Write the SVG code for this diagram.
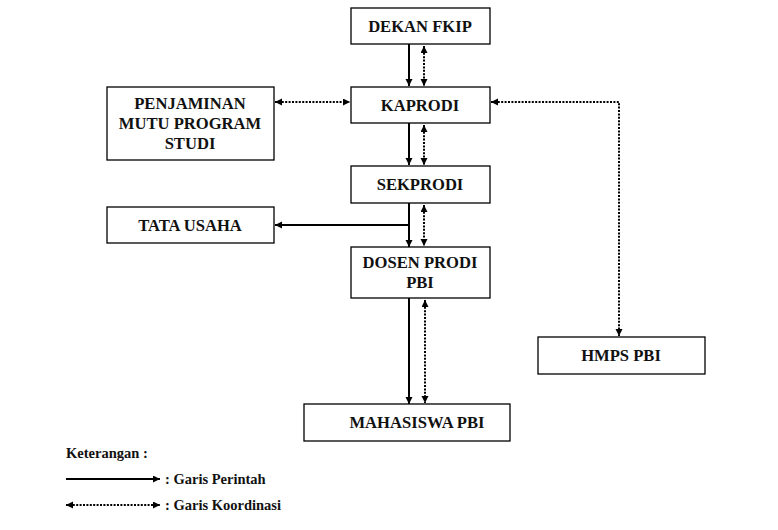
<svg xmlns="http://www.w3.org/2000/svg" width="778" height="530" viewBox="0 0 778 530">
<style>
.box{fill:#fff;stroke:#000;stroke-width:1.3}
.t{font-family:'Liberation Serif','Times New Roman',serif;font-weight:700;font-size:16.6px;fill:#111;text-anchor:middle}
.lg{font-family:'Liberation Serif','Times New Roman',serif;font-weight:700;font-size:14.5px;fill:#111}
.solid{fill:none;stroke:#000;stroke-width:2}
.dot{fill:none;stroke:#000;stroke-width:2;stroke-dasharray:2 1.4}
</style>
<defs>
<marker id="ah" markerUnits="userSpaceOnUse" markerWidth="8" markerHeight="8" refX="7" refY="3.5" orient="auto-start-reverse">
<path d="M0,0 L7,3.5 L0,7 z" fill="#000"/>
</marker>
</defs>
<rect width="778" height="530" fill="#fff"/>
<g id="connectors">
<line class="solid" x1="409" y1="44" x2="409" y2="86" marker-end="url(#ah)"/>
<line class="dot" x1="424" y1="46" x2="424" y2="86" marker-start="url(#ah)" marker-end="url(#ah)"/>
<line class="solid" x1="409" y1="123" x2="409" y2="165" marker-end="url(#ah)"/>
<line class="dot" x1="424" y1="125" x2="424" y2="165" marker-start="url(#ah)" marker-end="url(#ah)"/>
<line class="solid" x1="409" y1="203" x2="409" y2="247" marker-end="url(#ah)"/>
<line class="solid" x1="409" y1="225" x2="275" y2="225" marker-end="url(#ah)"/>
<line class="dot" x1="424" y1="205" x2="424" y2="246" marker-start="url(#ah)" marker-end="url(#ah)"/>
<line class="solid" x1="409" y1="298" x2="409" y2="404" marker-end="url(#ah)"/>
<line class="dot" x1="425" y1="300" x2="425" y2="403" marker-start="url(#ah)" marker-end="url(#ah)"/>
<line class="dot" x1="275" y1="102" x2="350" y2="102" marker-start="url(#ah)" marker-end="url(#ah)"/>
<polyline class="dot" points="491,102 619,102 619,336" marker-start="url(#ah)" marker-end="url(#ah)"/>
</g>
<g id="dekan"><rect class="box" x="351" y="8" width="139" height="36"/><text class="t" x="420" y="32">DEKAN FKIP</text></g>
<g id="kaprodi"><rect class="box" x="351" y="87" width="139" height="36"/><text class="t" x="420" y="111">KAPRODI</text></g>
<g id="penjaminan"><rect class="box" x="107" y="87" width="167" height="73"/>
<text class="t" x="190" y="108.5">PENJAMINAN</text><text class="t" x="190" y="128.5">MUTU PROGRAM</text><text class="t" x="190" y="148.5">STUDI</text></g>
<g id="sekprodi"><rect class="box" x="351" y="166" width="139" height="37"/><text class="t" x="420" y="190">SEKPRODI</text></g>
<g id="tatausaha"><rect class="box" x="107" y="207" width="167" height="36"/><text class="t" x="190" y="231">TATA USAHA</text></g>
<g id="dosen"><rect class="box" x="351" y="247" width="139" height="51"/>
<text class="t" x="420" y="267.5">DOSEN PRODI</text><text class="t" x="420" y="287.5">PBI</text></g>
<g id="hmps"><rect class="box" x="538" y="337" width="167" height="37"/><text class="t" x="621" y="361">HMPS PBI</text></g>
<g id="mahasiswa"><rect class="box" x="304" y="404" width="206" height="37"/><text class="t" x="417" y="428">MAHASISWA PBI</text></g>
<g id="legend">
<text class="lg" x="66" y="458">Keterangan :</text>
<line class="solid" x1="66" y1="479" x2="160" y2="479" marker-end="url(#ah)"/>
<text class="lg" x="165" y="484">: Garis Perintah</text>
<line class="dot" x1="66" y1="505" x2="160" y2="505" marker-start="url(#ah)" marker-end="url(#ah)"/>
<text class="lg" x="165" y="510">: Garis Koordinasi</text>
</g>
</svg>
